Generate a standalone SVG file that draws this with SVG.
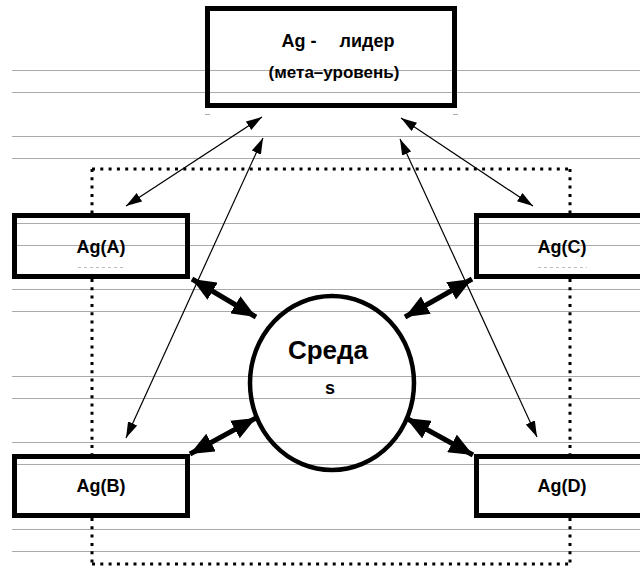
<svg xmlns="http://www.w3.org/2000/svg" width="640" height="569" viewBox="0 0 640 569">
  <style>
    .rule { stroke: #aaaaaa; stroke-width: 1; }
    .frame { fill: none; stroke: #000; stroke-width: 3; stroke-dasharray: 3 5.3; }
    .box { fill: none; stroke: #000; stroke-width: 5; }
    .ring { fill: none; stroke: #000; stroke-width: 4.5; }
    .thin { stroke: #000; stroke-width: 1.2; fill: none; marker-start: url(#headS); marker-end: url(#headS); }
    .thick { stroke: #000; stroke-width: 5; fill: none; marker-start: url(#headL); marker-end: url(#headL); }
    .lbl { font-family: "Liberation Sans", Arial, sans-serif; font-weight: bold; fill: #000; text-anchor: middle; }
    .trace { stroke: #bbbbbb; stroke-width: 1; stroke-dasharray: 3 3; }
  </style>
  <defs>
    <marker id="headS" viewBox="0 0 16 10" refX="16" refY="5" markerWidth="16" markerHeight="10" markerUnits="userSpaceOnUse" orient="auto-start-reverse">
      <path d="M0,0 L16,5 L0,10 Z" fill="#000"/>
    </marker>
    <marker id="headL" viewBox="0 0 24 20" refX="24" refY="10" markerWidth="24" markerHeight="20" markerUnits="userSpaceOnUse" orient="auto-start-reverse">
      <path d="M0,0 L24,10 L0,20 Z" fill="#000"/>
    </marker>
  </defs>

  <rect width="640" height="569" fill="#fff"/>

  <!-- ruled background lines -->
  <g id="rules">
    <line class="rule" x1="12" y1="70.5" x2="640" y2="70.5"/>
    <line class="rule" x1="12" y1="92.5" x2="640" y2="92.5"/>
    <line class="rule" x1="12" y1="136.5" x2="640" y2="136.5"/>
    <line class="rule" x1="12" y1="158.5" x2="640" y2="158.5"/>
    <line class="rule" x1="12" y1="223.5" x2="640" y2="223.5"/>
    <line class="rule" x1="12" y1="245.5" x2="640" y2="245.5"/>
    <line class="rule" x1="12" y1="289.5" x2="640" y2="289.5"/>
    <line class="rule" x1="12" y1="311.5" x2="640" y2="311.5"/>
    <line class="rule" x1="12" y1="376.5" x2="640" y2="376.5"/>
    <line class="rule" x1="12" y1="398.5" x2="640" y2="398.5"/>
    <line class="rule" x1="12" y1="442.5" x2="640" y2="442.5"/>
    <line class="rule" x1="12" y1="464.5" x2="640" y2="464.5"/>
    <line class="rule" x1="12" y1="529.5" x2="640" y2="529.5"/>
    <line class="rule" x1="12" y1="551.5" x2="640" y2="551.5"/>
  </g>

  <!-- dotted boundary of the agent environment -->
  <g id="boundary">
    <path class="frame" d="M92,169 H570"/>
    <path class="frame" d="M92,564 H570"/>
    <path class="frame" d="M92,169 V213 M92,279 V454 M92,518 V564"/>
    <path class="frame" d="M570,169 V213 M570,279 V454 M570,518 V564"/>
  </g>

  <!-- faint residual marks -->
  <g id="traces">
    <line class="trace" x1="78" y1="267.5" x2="126" y2="267.5"/>
    <line class="trace" x1="538" y1="267.5" x2="587" y2="267.5"/>
    <line class="rule" x1="205" y1="114.5" x2="210" y2="114.5"/>
    <line class="rule" x1="453" y1="114.5" x2="458" y2="114.5"/>
  </g>

  <!-- connectors -->
  <g id="connectors">
    <line class="thin" x1="262" y1="117" x2="126" y2="206"/>
    <line class="thin" x1="263" y1="138" x2="126" y2="438"/>
    <line class="thin" x1="401" y1="118" x2="533" y2="206"/>
    <line class="thin" x1="400" y1="139" x2="537" y2="437"/>
    <line class="thick" x1="192" y1="279" x2="256" y2="317"/>
    <line class="thick" x1="472" y1="279" x2="405" y2="317"/>
    <line class="thick" x1="190" y1="454" x2="256" y2="418"/>
    <line class="thick" x1="473" y1="455" x2="406" y2="418"/>
  </g>

  <g id="leader">
    <rect class="box" x="207.5" y="8.5" width="247" height="97"/>
    <text class="lbl" x="299" y="47" font-size="18">Ag -</text>
    <text class="lbl" x="367" y="47" font-size="18">лидер</text>
    <text class="lbl" x="334" y="78" font-size="17">(мета–уровень)</text>
  </g>

  <g id="agA">
    <rect class="box" x="14.5" y="215.5" width="173" height="61"/>
    <text class="lbl" x="101" y="253" font-size="18">Ag(A)</text>
  </g>

  <g id="agC">
    <rect class="box" x="476.5" y="215.5" width="173" height="61"/>
    <text class="lbl" x="562" y="253" font-size="18">Ag(C)</text>
  </g>

  <g id="agB">
    <rect class="box" x="14.5" y="456.5" width="173" height="59"/>
    <text class="lbl" x="101" y="492" font-size="18">Ag(B)</text>
  </g>

  <g id="agD">
    <rect class="box" x="476.5" y="456.5" width="173" height="59"/>
    <text class="lbl" x="562" y="492" font-size="18">Ag(D)</text>
  </g>

  <g id="environment">
    <ellipse class="ring" cx="332" cy="383" rx="82" ry="87"/>
    <text class="lbl" x="328" y="359" font-size="26">Среда</text>
    <text class="lbl" x="330" y="394" font-size="18">s</text>
  </g>
</svg>
